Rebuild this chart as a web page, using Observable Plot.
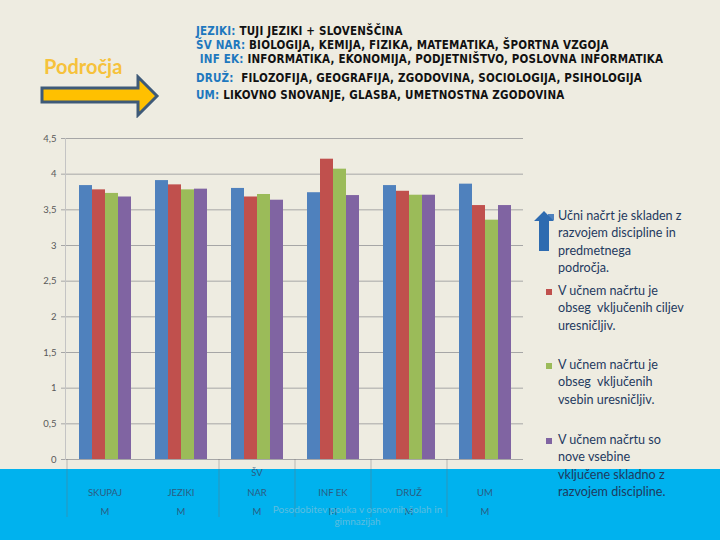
<!DOCTYPE html>
<html><head><meta charset="utf-8">
<script src="https://cdn.jsdelivr.net/npm/d3@7"></script>
<script src="https://cdn.jsdelivr.net/npm/@observablehq/plot@0.6"></script>
<style>
body{margin:0;}
#page{position:relative;width:720px;height:540px;background:#eeece1;overflow:hidden;font-family:Lato,"Open Sans",sans-serif;}
#band{position:absolute;left:0;top:469px;width:720px;height:71px;background:#00b2ee;}
#axis,#chart{position:absolute;left:0;top:128px;}
.hdr{position:absolute;left:196px;font-family:"DejaVu Sans Condensed","Liberation Sans",sans-serif;font-weight:bold;font-size:11.5px;color:#111;white-space:nowrap;letter-spacing:0.2px;line-height:14px;}
.hdr b{color:#1e78be;}
#podrocja{position:absolute;left:44px;top:54px;font-family:Lato,sans-serif;font-weight:bold;font-size:20px;color:#f6c23b;}
#arrow{position:absolute;left:38px;top:74px;}
.leg{position:absolute;left:558px;font-family:Lato,"Open Sans",sans-serif;font-size:12.6px;line-height:17.4px;color:#1f3a5f;white-space:nowrap;}
.sw{position:absolute;width:6px;height:6px;}
#wm{position:absolute;left:250px;width:215px;top:503px;text-align:center;font-family:Lato,sans-serif;font-size:10px;line-height:12px;color:#5cbde0;}
</style></head>
<body><div id="page">
<div id="band"></div>
<div id="podrocja">Področja</div>
<svg id="arrow" width="124" height="44"><path d="M4,14 L100,14 L100,3 L119,22 L100,41 L100,28 L4,28 Z" fill="#ffc000" stroke="#3e5a78" stroke-width="3" stroke-linejoin="miter"/></svg>
<div id="header"></div>
<div id="axis"></div>
<div id="chart"></div>
<div id="legend"></div>
<div id="wm">Posodobitev pouka v osnovnih šolah in<br>gimnazijah</div>
</div>
<script>
// ---- data ----
const categories = ["SKUPAJ", "JEZIKI", "ŠV NAR", "INF EK", "DRUŽ", "UM"];
const categoryLabels = ["\nSKUPAJ\nM", "\nJEZIKI\nM", "ŠV\nNAR\nM", "\nINF EK\nM", "\nDRUŽ\nM", "\nUM\nM"];
const dividerBefore = ["SKUPAJ", "ŠV NAR", "INF EK", "DRUŽ", "UM"];
const seriesNames = [
  "Učni načrt je skladen z\nrazvojem discipline in\npredmetnega\npodročja.",
  "V učnem načrtu je\nobseg  vključenih ciljev\nuresničljiv.",
  "V učnem načrtu je\nobseg  vključenih\nvsebin uresničljiv.",
  "V učnem načrtu so\nnove vsebine\nvključene skladno z\nrazvojem discipline."
];
const s1 = [3.84, 3.91, 3.80, 3.74, 3.84, 3.86];
const s2 = [3.78, 3.85, 3.68, 4.21, 3.76, 3.56];
const s3 = [3.73, 3.78, 3.715, 4.07, 3.705, 3.355];
const s4 = [3.68, 3.79, 3.635, 3.70, 3.705, 3.56];
const colors = ["#4f81bd", "#c0504d", "#9bbb59", "#8064a2"];
const yTicks = [0, 0.5, 1, 1.5, 2, 2.5, 3, 3.5, 4, 4.5];
const headerLines = [
  ["JEZIKI:", " TUJI JEZIKI + SLOVENŠČINA"],
  ["ŠV NAR:", " BIOLOGIJA, KEMIJA, FIZIKA, MATEMATIKA, ŠPORTNA VZGOJA"],
  ["\u00a0INF EK:", " INFORMATIKA, EKONOMIJA, PODJETNIŠTVO, POSLOVNA INFORMATIKA"],
  ["DRUŽ:", "  FILOZOFIJA, GEOGRAFIJA, ZGODOVINA, SOCIOLOGIJA, PSIHOLOGIJA"],
  ["UM:", " LIKOVNO SNOVANJE, GLASBA, UMETNOSTNA ZGODOVINA"]
];

// ---- header ----
const headerTops = [24, 38, 52, 71, 88];
const hdr = document.getElementById("header");
headerLines.forEach((l, i) => {
  const d = document.createElement("div");
  d.className = "hdr";
  d.style.top = headerTops[i] + "px";
  d.innerHTML = `<b>${l[0]}</b>${l[1].replace(/  /g, "\u00a0 ")}`;
  hdr.appendChild(d);
});

// ---- shared layout ----
const W = 530, H = 402, ML = 65, MR = 7, MT = 10, MB = 71;
const fmt = d => String(d).replace(".", ",");

// y axis + gridlines (whole frame width)
const axisPlot = Plot.plot({
  width: W, height: H, marginLeft: ML, marginRight: MR, marginTop: MT, marginBottom: MB,
  style: {background: "transparent"},
  x: {axis: null},
  y: {domain: [0, 4.5], axis: null},
  marks: [
    Plot.ruleY(yTicks, {y: d => d, stroke: "#a6a6a6", strokeWidth: 1, insetLeft: -4}),
    Plot.frame({anchor: "left", stroke: "#c4c4c4"}),
    Plot.text(yTicks, {y: d => d, text: fmt, frameAnchor: "left", textAnchor: "end", dx: -9, fontSize: 9.5, fill: "#595959", fontFamily: "Lato, sans-serif"})
  ]
});
document.getElementById("axis").appendChild(axisPlot);

// ---- bars ----
const series = [s1, s2, s3, s4];
const rows = [];
categories.forEach((c, i) => series.forEach((s, k) => rows.push({cat: c, k, value: s[i]})));
const labelOf = Object.fromEntries(categories.map((c, i) => [c, categoryLabels[i]]));

const plot = Plot.plot({
  width: W, height: H, marginLeft: ML, marginRight: MR, marginTop: MT, marginBottom: MB,
  style: {background: "transparent", overflow: "visible"},
  fx: {domain: categories, paddingInner: 0.28, paddingOuter: 0.14, label: null},
  x: {domain: [0, 1, 2, 3], padding: 0, axis: null},
  y: {domain: [0, 4.5], axis: null},
  color: {domain: [0, 1, 2, 3], range: colors},
  marks: [
    Plot.barY(rows, {fx: "cat", x: "k", y: "value", fill: "k", inset: 0}),
    Plot.axisFx({anchor: "bottom", tickSize: 0, tickPadding: 3, tickFormat: d => labelOf[d], fontSize: 9.5, lineHeight: 2.05, fill: "#2b5c82", fontFamily: "Lato, sans-serif", label: null})
  ]
});
document.getElementById("chart").appendChild(plot);

// category dividers, placed with the plot's own fx and y scales
const fxS = plot.scale("fx");
const yS = plot.scale("y");
const gap = fxS.step - fxS.bandwidth;
d3.select(plot).append("g")
  .selectAll("line").data(dividerBefore).join("line")
  .attr("x1", d => fxS.apply(d) - gap / 2 + 0.5)
  .attr("x2", d => fxS.apply(d) - gap / 2 + 0.5)
  .attr("y1", yS.apply(0))
  .attr("y2", 389)
  .attr("stroke", "#6f6f6f")
  .attr("stroke-opacity", 0.4);

// ---- legend ----
const legTops = [207, 282, 356, 431];
const leg = document.getElementById("legend");
seriesNames.forEach((name, k) => {
  const d = document.createElement("div");
  d.className = "leg";
  d.style.top = legTops[k] + "px";
  d.innerHTML = name.split("\n").map(s => s.replace(/  /g, "\u00a0 ")).join("<br>");
  leg.appendChild(d);
  if (k === 0) {
    const ns = "http://www.w3.org/2000/svg";
    const s = document.createElementNS(ns, "svg");
    s.setAttribute("width", 24); s.setAttribute("height", 44);
    s.style.position = "absolute"; s.style.left = "532px"; s.style.top = "209px";
    s.innerHTML = `<rect x="16" y="5" width="6" height="6" fill="${colors[0]}"/><path d="M2,12 L12,2 L22,12 L17,12 L17,42 L7,42 L7,12 Z" fill="#2e6bb0"/>`;
    leg.appendChild(s);
  } else {
    const sq = document.createElement("div");
    sq.className = "sw";
    sq.style.left = "546px";
    sq.style.top = (legTops[k] + 7) + "px";
    sq.style.background = colors[k];
    leg.appendChild(sq);
  }
});
</script>
</body></html>
